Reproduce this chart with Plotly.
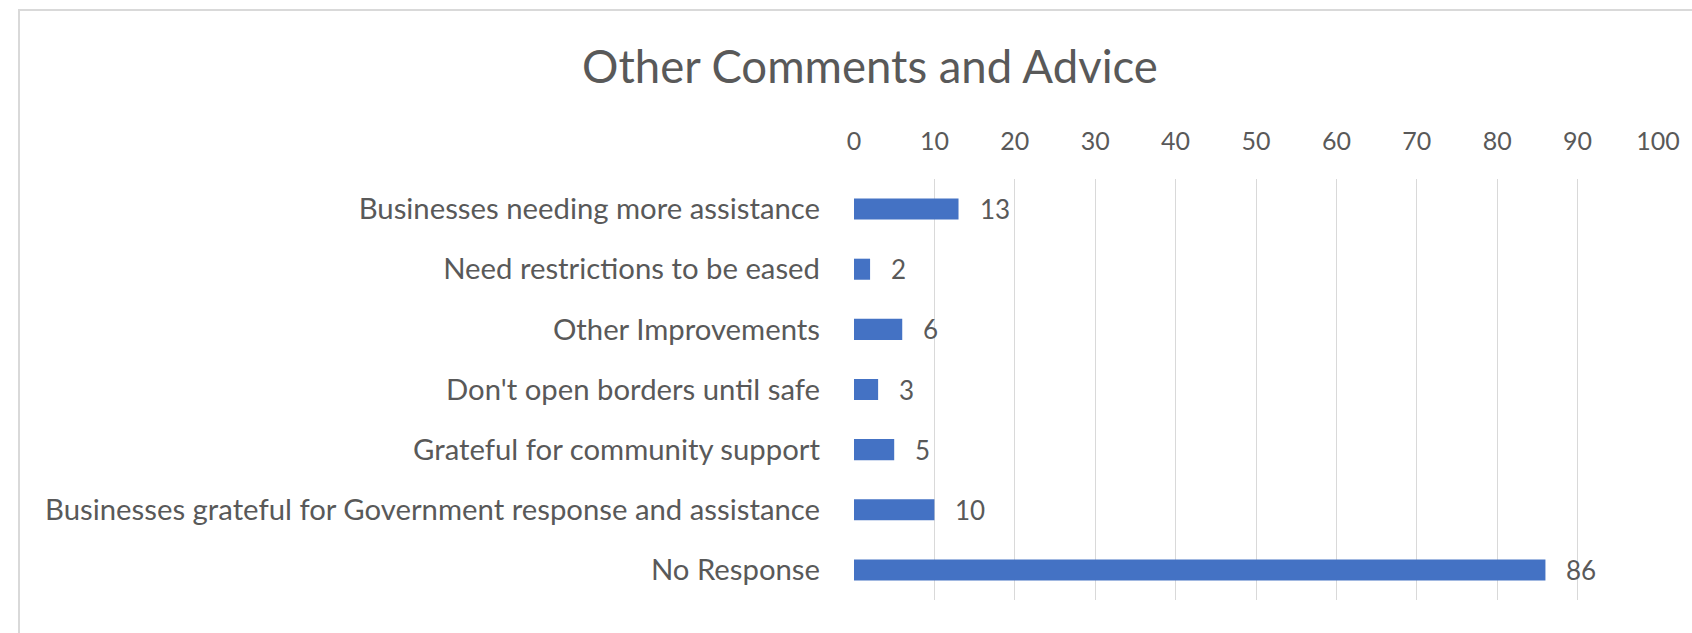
import plotly.graph_objects as go

categories = [
    "Businesses needing more assistance",
    "Need restrictions to be eased",
    "Other Improvements",
    "Don't open borders until safe",
    "Grateful for community support",
    "Businesses grateful for Government response and assistance",
    "No Response",
]
values = [13, 2, 6, 3, 5, 10, 86]
x_ticks = [0, 10, 20, 30, 40, 50, 60, 70, 80, 90, 100]
title_text = "Other Comments and Advice"

FONT = "Lato"
TXT = "#595959"
GRID = "#d9d9d9"
BAR = "#4472c4"

W, H = 1692, 633
L, R, T, B = 854, 34, 179, 33

fig = go.Figure()
fig.add_trace(go.Bar(
    y=categories,
    x=values,
    orientation="h",
    marker=dict(color=BAR, line=dict(width=0)),
    hoverinfo="skip",
))

for c, v in zip(categories, values):
    fig.add_annotation(
        x=v, y=c, xref="x", yref="y",
        text=str(v), showarrow=False,
        xanchor="left", yanchor="middle", xshift=19,
        font=dict(family=FONT, size=26, color=TXT),
    )

pw = W - L - R
ph = H - T - B
fig.add_shape(
    type="rect", xref="paper", yref="paper",
    x0=(19 - L) / pw, x1=1.3, y0=-0.3, y1=(H - B - 10) / ph,
    line=dict(color=GRID, width=2), fillcolor="rgba(0,0,0,0)", layer="below",
)

fig.update_layout(
    width=W, height=H,
    margin=dict(l=L, r=R, t=T, b=B, pad=0),
    paper_bgcolor="white", plot_bgcolor="white",
    showlegend=False,
    bargap=0.65,
    title=dict(
        text=title_text, x=870 / W, xref="container", xanchor="center",
        y=1 - 67 / H, yref="container", yanchor="middle",
        font=dict(family=FONT, size=45.5, color=TXT),
    ),
    xaxis=dict(
        side="top", range=[0, 100], tickvals=x_ticks,
        ticktext=[str(t) for t in x_ticks],
        showgrid=True, gridcolor=GRID, gridwidth=1,
        zeroline=False, showline=False, ticks="",
        ticklabelstandoff=23,
        tickfont=dict(family=FONT, size=25, color=TXT),
        fixedrange=True,
    ),
    yaxis=dict(
        autorange="reversed", showgrid=False, zeroline=False,
        showline=False, ticks="", ticklabelstandoff=33,
        tickfont=dict(family=FONT, size=29.3, color=TXT),
        fixedrange=True,
    ),
)

fig.write_html(
    "out.html",
    config={"displayModeBar": False},
    post_script="document.body.style.margin='0px';document.body.style.overflow='hidden';",
)
